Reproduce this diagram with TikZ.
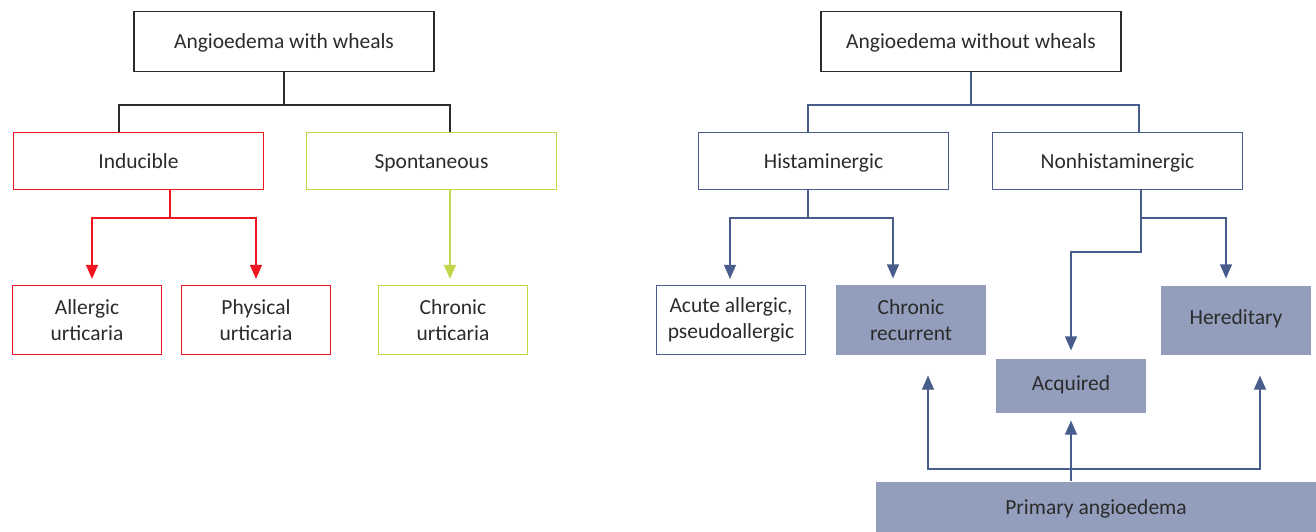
\documentclass[tikz,border=0pt]{standalone}
\usepackage{fontspec}
\setmainfont{Carlito}
\usetikzlibrary{arrows.meta}
\definecolor{txt}{HTML}{2B2B2B}
\definecolor{redc}{HTML}{F0141E}
\definecolor{grnc}{HTML}{C3D64A}
\definecolor{bluc}{HTML}{485D8C}
\definecolor{fillc}{HTML}{939EBC}
\begin{document}
\begin{tikzpicture}[x=1pt,y=-1pt,
  base/.style={rectangle, inner sep=0pt, align=center, text=txt,
    font=\fontsize{21.5}{25.5}\selectfont, line width=1.2pt},
  one/.style={text height=18pt, text depth=4pt},
  boxK/.style={base, draw=txt},
  boxR/.style={base, draw=redc},
  boxG/.style={base, draw=grnc},
  boxB/.style={base, draw=bluc},
  boxF/.style={base, draw=none, fill=fillc},
  wide/.style={one, minimum width=300pt, minimum height=60pt},
  mid/.style={one, minimum width=250pt, minimum height=57pt},
  small/.style={minimum width=149pt, minimum height=69pt},
  conK/.style={draw=txt, line width=1.2pt},
  conR/.style={draw=redc, line width=1.2pt},
  conG/.style={draw=grnc, line width=1.2pt},
  conB/.style={draw=bluc, line width=1.2pt},
  arr/.style={-{Triangle[length=14pt,width=12pt]}, shorten >=6pt}
]
\useasboundingbox (0,0) rectangle (1316,532);

% left tree
\node[boxK, wide] (tl) at (284,41.5) {Angioedema with wheals};
\node[boxR, mid] (ind) at (138.5,161) {Inducible};
\node[boxG, mid] (sp) at (431.5,161) {Spontaneous};
\node[boxR, small] (all) at (87,320) {Allergic\\urticaria};
\node[boxR, small] (phy) at (256,320) {Physical\\urticaria};
\node[boxG, small] (chr) at (453,320) {Chronic\\urticaria};

\coordinate (jl) at (284,105);
\draw[conK] (tl.south) -- (jl);
\draw[conK] ([xshift=-19.5pt]ind.north) |- (jl) -| ([xshift=18.5pt]sp.north);

\coordinate (ji) at (170,218);
\draw[conR] ([xshift=31.5pt]ind.south) -- (ji);
\draw[conR, arr] (ji) -| ([xshift=5pt]all.north);
\draw[conR, arr] (ji) -| (phy.north);

\draw[conG, arr] ([xshift=18.5pt]sp.south) -- ([xshift=-3pt]chr.north);

% right tree
\node[boxK, wide] (tr) at (971,41.5) {Angioedema without wheals};
\node[boxB, mid] (his) at (823.5,161) {Histaminergic};
\node[boxB, mid] (non) at (1117.5,161) {Nonhistaminergic};
\node[boxB, small] (acu) at (731,320) {Acute allergic,\\pseudoallergic};
\node[boxF, minimum width=150pt, minimum height=70pt] (crr) at (911,320) {Chronic\\recurrent};
\node[boxF, text height=18pt, text depth=11pt, minimum width=150pt, minimum height=69pt] (her) at (1236,320.5) {Hereditary};
\node[boxF, text height=18pt, text depth=10pt, minimum width=150pt, minimum height=54pt] (acq) at (1071,386) {Acquired};
\node[boxF, one, minimum width=440pt, minimum height=50pt] (pri) at (1096,507) {Primary angioedema};

\coordinate (jr) at (971,105);
\draw[conB] (tr.south) -- (jr);
\draw[conB] ([xshift=-15.5pt]his.north) |- (jr) -| ([xshift=21.5pt]non.north);

\coordinate (jh) at (808,218);
\draw[conB] ([xshift=-15.5pt]his.south) -- (jh);
\draw[conB, arr] (jh) -| ([xshift=-1pt]acu.north);
\draw[conB, arr] (jh) -| ([xshift=-18pt]crr.north);

\coordinate (jn) at (1141,218);
\coordinate (jn2) at (1141,252);
\draw[conB, arr, shorten >=8pt] ([xshift=23.5pt]non.south) -- (jn2) -| (acq.north);
\draw[conB, arr, shorten >=7pt] (jn) -| ([xshift=-10pt]her.north);

\coordinate (pj) at (1071,469);
\draw[conB, arr, shorten >=7pt] (pri.north -| acq.south) -- (acq.south);
\draw[conB, arr, shorten >=20pt] (pj) -| ([xshift=17pt]crr.south);
\draw[conB, arr, shorten >=20pt] (pj) -| ([xshift=24pt]her.south);
\end{tikzpicture}
\end{document}
